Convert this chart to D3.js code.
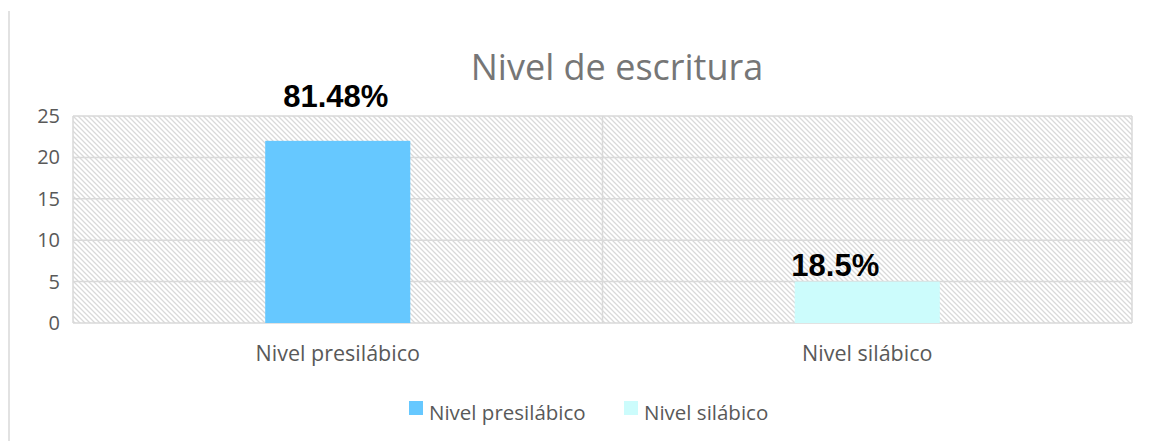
<!DOCTYPE html>
<html>
<head>
<meta charset="utf-8">
<script src="https://cdn.jsdelivr.net/npm/d3@7"></script>
<style>
  body { margin: 0; background: #fff; }
  text { font-family: "Open Sans", sans-serif; }
</style>
</head>
<body>
<div id="chart"></div>
<script>
var categories = ["Nivel presilábico", "Nivel silábico"];
var values = [22, 5];
var percentLabels = ["81.48%", "18.5%"];
var colors = ["#66c8ff", "#ccfcfc"];
var yTicks = [0, 5, 10, 15, 20, 25];

var W = 1150, H = 441;
var margin = { top: 116, left: 73, right: 18, bottom: 118 };
var width = W - margin.left - margin.right,
    height = H - margin.top - margin.bottom;

var svg = d3.select("#chart").append("svg")
  .attr("width", W).attr("height", H);

// hatch pattern for the plot background
var defs = svg.append("defs");
var pat = defs.append("pattern")
  .attr("id", "hatch")
  .attr("patternUnits", "userSpaceOnUse")
  .attr("width", 5).attr("height", 5);
pat.append("path")
  .attr("d", "M-1,-1 L6,6 M-1,4 L1,6 M4,-1 L6,1")
  .attr("stroke", "#d9d9d9")
  .attr("stroke-width", 1.3);

// left border line
svg.append("line")
  .attr("x1", 9).attr("x2", 9).attr("y1", 11).attr("y2", H)
  .attr("stroke", "#d9d9d9").attr("stroke-width", 1.5);

var g = svg.append("g")
  .attr("transform", "translate(" + margin.left + "," + margin.top + ")");

var x = d3.scaleBand().domain(categories).range([0, width]).padding(0);
var y = d3.scaleLinear().domain([0, 25]).range([height, 0]);

g.append("rect")
  .attr("width", width).attr("height", height)
  .attr("fill", "url(#hatch)");

// gridlines
g.selectAll(".grid")
  .data(yTicks)
  .enter().append("line")
  .attr("x1", 0).attr("x2", width)
  .attr("y1", function(d) { return y(d); })
  .attr("y2", function(d) { return y(d); })
  .attr("stroke", "#d9d9d9").attr("stroke-width", 1.5);

// vertical separators
var seps = [0, width / 2, width];
g.selectAll(".vsep")
  .data(seps)
  .enter().append("line")
  .attr("x1", function(d) { return d; }).attr("x2", function(d) { return d; })
  .attr("y1", 0).attr("y2", height)
  .attr("stroke", "#d9d9d9").attr("stroke-width", 1.5);

// bars
var barW = x.bandwidth() * 0.274;
g.selectAll(".bar")
  .data(values)
  .enter().append("rect")
  .attr("x", function(d, i) { return x(categories[i]) + x.bandwidth() / 2 - barW / 2; })
  .attr("y", function(d) { return y(d); })
  .attr("width", barW)
  .attr("height", function(d) { return height - y(d); })
  .attr("fill", function(d, i) { return colors[i]; });

// value labels (moved by hand in the original)
var labelDx = [-2, -32], labelDy = [-34, -6];
g.selectAll(".lbl")
  .data(values)
  .enter().append("text")
  .attr("x", function(d, i) { return x(categories[i]) + x.bandwidth() / 2 + labelDx[i]; })
  .attr("y", function(d, i) { return y(d) + labelDy[i]; })
  .attr("text-anchor", "middle")
  .style("font-family", "Arial, 'Liberation Sans', sans-serif")
  .style("font-weight", "bold")
  .style("font-size", "31px")
  .attr("fill", "#000")
  .text(function(d, i) { return percentLabels[i]; });

// y axis labels
var yAxis = d3.axisLeft(y).tickValues(yTicks).tickSize(0).tickPadding(13);
g.append("g").call(yAxis)
  .call(function(s) { s.select(".domain").remove(); })
  .selectAll("text")
  .style("font-size", "20px")
  .attr("fill", "#595959");

// x axis labels
var xAxis = d3.axisBottom(x).tickSize(0).tickPadding(23);
g.append("g").attr("transform", "translate(0," + height + ")").call(xAxis)
  .call(function(s) { s.select(".domain").remove(); })
  .selectAll("text")
  .style("font-size", "21.5px")
  .attr("fill", "#595959");

// title
svg.append("text")
  .attr("x", 617).attr("y", 80)
  .attr("text-anchor", "middle")
  .style("font-size", "36px")
  .attr("fill", "#767676")
  .text("Nivel de escritura");

// legend
var legendX = [409, 624];
var leg = svg.selectAll(".leg")
  .data(categories)
  .enter().append("g")
  .attr("transform", function(d, i) { return "translate(" + legendX[i] + ",401)"; });
leg.append("rect")
  .attr("width", 14).attr("height", 14)
  .attr("fill", function(d, i) { return colors[i]; });
leg.append("text")
  .attr("x", 20).attr("y", 19)
  .style("font-size", "20.5px")
  .attr("fill", "#595959")
  .text(function(d) { return d; });
</script>
</body>
</html>
